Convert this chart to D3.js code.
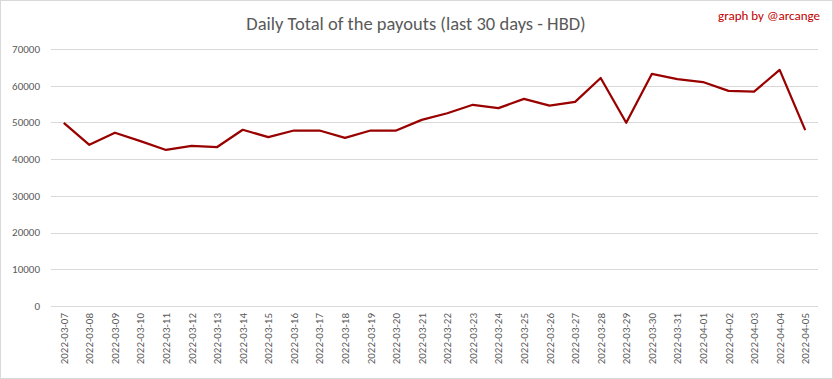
<!DOCTYPE html>
<html>
<head>
<meta charset="utf-8">
<script src="https://cdn.jsdelivr.net/npm/d3@7"></script>
<style>
  body { margin: 0; background: #fff; }
  svg { display: block; }
</style>
</head>
<body>
<svg width="833" height="379"></svg>
<script>
const dates = ["2022-03-07","2022-03-08","2022-03-09","2022-03-10","2022-03-11","2022-03-12","2022-03-13","2022-03-14","2022-03-15","2022-03-16",
  "2022-03-17","2022-03-18","2022-03-19","2022-03-20","2022-03-21","2022-03-22","2022-03-23","2022-03-24","2022-03-25","2022-03-26",
  "2022-03-27","2022-03-28","2022-03-29","2022-03-30","2022-03-31","2022-04-01","2022-04-02","2022-04-03","2022-04-04","2022-04-05"]
const payouts = [49900, 43900, 47200, 44900, 42500, 43600, 43300, 48000, 46000, 47800,
  47800, 45800, 47800, 47800, 50700, 52500, 54800, 53900, 56400, 54600,
  55600, 62100, 49900, 63200, 61800, 61000, 58600, 58400, 64300, 47900]
const yTicks = [0, 10000, 20000, 30000, 40000, 50000, 60000, 70000]

const svg = d3.select("svg"),
  width = +svg.attr("width"),
  height = +svg.attr("height")

const font = "Carlito, 'Open Sans', 'Liberation Sans', sans-serif"
const margin = {left: 51, right: 15, top: 49, bottom: 73}

// outer border
svg.append("rect")
  .attr("x", 0.5).attr("y", 0.5)
  .attr("width", width - 1).attr("height", height - 1)
  .attr("fill", "#fff").attr("stroke", "#d9d9d9")

const x = d3.scaleBand()
  .domain(dates)
  .range([margin.left, width - margin.right])

const y = d3.scaleLinear()
  .domain([0, 70000])
  .range([height - margin.bottom, margin.top])

// gridlines
svg.append("g")
  .selectAll("line")
  .data(yTicks)
  .enter().append("line")
  .attr("x1", margin.left).attr("x2", width - margin.right)
  .attr("y1", d => Math.round(y(d)) + 0.5).attr("y2", d => Math.round(y(d)) + 0.5)
  .attr("stroke", "#d9d9d9").attr("stroke-width", 1)

// y labels
svg.append("g")
  .selectAll("text")
  .data(yTicks)
  .enter().append("text")
  .attr("x", 40)
  .attr("y", d => y(d))
  .attr("dy", "0.35em")
  .attr("text-anchor", "end")
  .attr("font-family", font)
  .attr("font-size", 11)
  .attr("fill", "#595959")
  .text(d => d)

// x labels
svg.append("g")
  .selectAll("text")
  .data(dates)
  .enter().append("text")
  .attr("transform", d => `translate(${x(d) + x.bandwidth() / 2 + 4},${height - margin.bottom + 7}) rotate(-90)`)
  .attr("text-anchor", "end")
  .attr("font-family", font)
  .attr("font-size", 11)
  .attr("fill", "#595959")
  .text(d => d)

// line
const line = d3.line()
  .x((d, i) => x(dates[i]) + x.bandwidth() / 2)
  .y(d => y(d))

svg.append("path")
  .datum(payouts)
  .attr("d", line)
  .attr("fill", "none")
  .attr("stroke", "#990000")
  .attr("stroke-width", 2.25)
  .attr("stroke-linejoin", "round")

// title
svg.append("text")
  .attr("x", 416).attr("y", 30)
  .attr("text-anchor", "middle")
  .attr("font-family", font)
  .attr("font-size", 18.5)
  .attr("fill", "#595959")
  .text("Daily Total of the payouts (last 30 days - HBD)")

svg.append("text")
  .attr("x", 820).attr("y", 20)
  .attr("text-anchor", "end")
  .attr("font-family", font)
  .attr("font-size", 13)
  .attr("fill", "#c00000")
  .text("graph by @arcange")
</script>
</body>
</html>
